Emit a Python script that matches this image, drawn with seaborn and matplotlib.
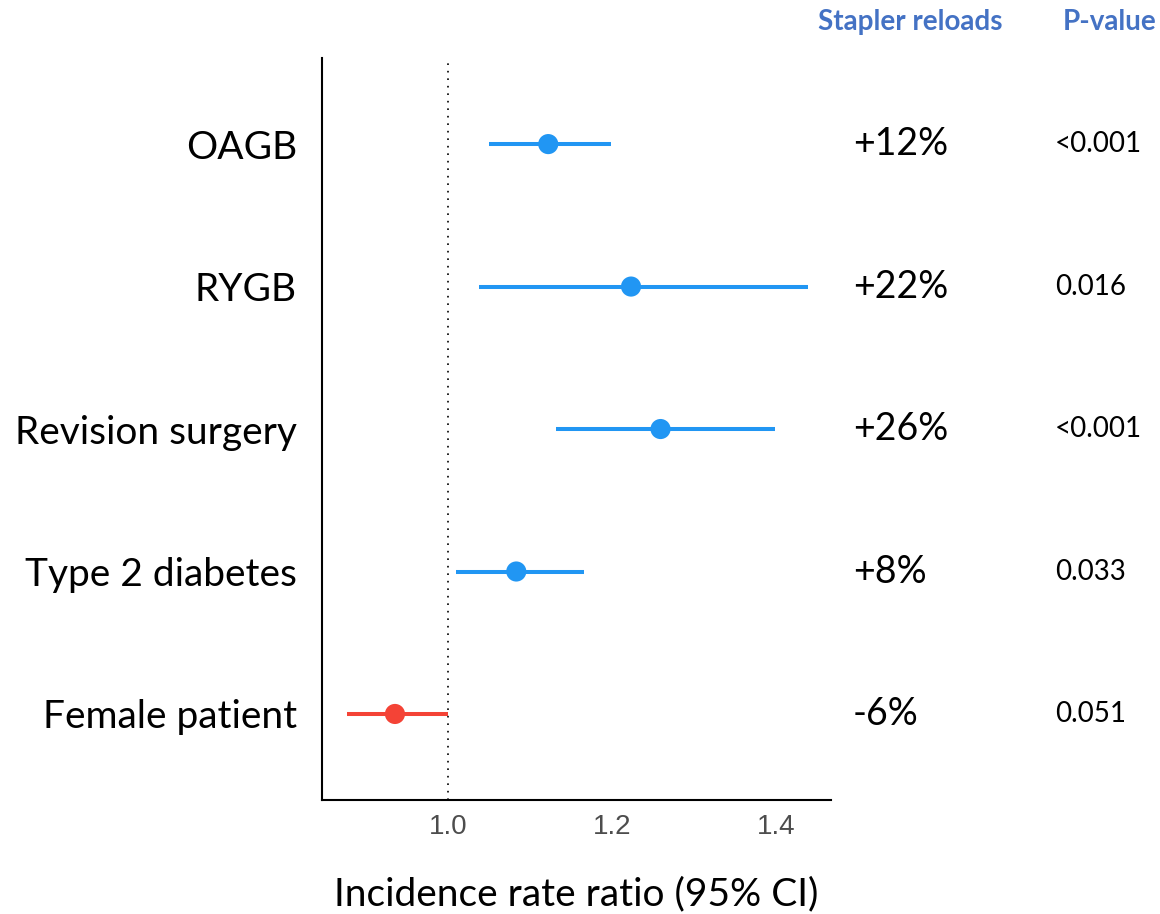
import matplotlib
matplotlib.use('Agg')
import matplotlib.pyplot as plt
import seaborn as sns
import pandas as pd

# Data
labels = ['OAGB', 'RYGB', 'Revision surgery', 'Type 2 diabetes', 'Female patient']
irr = [1.122, 1.223, 1.259, 1.083, 0.935]
ci_low = [1.050, 1.038, 1.132, 1.009, 0.876]
ci_high = [1.198, 1.439, 1.399, 1.166, 1.000]
change = ['+12%', '+22%', '+26%', '+8%', '-6%']
pvals = ['<0.001', '0.016', '<0.001', '0.033', '0.051']

df = pd.DataFrame({'label': labels, 'irr': irr, 'lo': ci_low, 'hi': ci_high,
                   'change': change, 'p': pvals})
df['pos'] = range(len(df))
df['dir'] = ['up' if v >= 1 else 'down' for v in df.irr]
colors = {'up': '#2196F3', 'down': '#F44336'}

sns.set_style('white')
plt.rcParams['font.family'] = ['Lato', 'DejaVu Sans']
plt.rcParams['text.color'] = 'black'
plt.rcParams['axes.labelcolor'] = 'black'

fig = plt.figure(figsize=(11.6, 9.14), dpi=100)
ax = fig.add_axes([0.2776, 0.1247, 0.7164 - 0.2776, 0.9365 - 0.1247])

# CI lines
for _, r in df.iterrows():
    ax.hlines(r.pos, r.lo, r.hi, color=colors[r.dir], lw=2.9, zorder=2)
sns.scatterplot(data=df, x='irr', y='pos', hue='dir', palette=colors, s=210,
                edgecolor='none', legend=False, ax=ax, zorder=3)

ax.axvline(1.0, color='black', lw=1.2, ls=(0, (1, 3.5)), zorder=1)

ax.set_xlim(0.846, 1.467)
ax.set_ylim(4.604, -0.604)
ax.set_xticks([1.0, 1.2, 1.4])
ax.set_xticklabels(['1.0', '1.2', '1.4'], family='Liberation Sans', fontsize=20, color='#4d4d4d')
ax.set_yticks(df.pos)
ax.set_yticklabels(df.label, fontsize=28, color='black')
ax.tick_params(axis='y', length=0, pad=18)
ax.tick_params(axis='x', length=0, pad=10)
ax.set_xlabel('Incidence rate ratio (95% CI)', fontsize=28, labelpad=26)
ax.set_ylabel('')
for s in ['top', 'right']:
    ax.spines[s].set_visible(False)
for s in ['left', 'bottom']:
    ax.spines[s].set_color('black')
    ax.spines[s].set_linewidth(1.5)

# right-hand text columns
for _, r in df.iterrows():
    ax.annotate(r.change, xy=(1, r.pos), xycoords=('axes fraction', 'data'),
                xytext=(22, 0), textcoords='offset pixels', ha='left', va='center', fontsize=27)
    ax.annotate(r.p, xy=(1, r.pos), xycoords=('axes fraction', 'data'),
                xytext=(224, 0), textcoords='offset pixels', ha='left', va='center', fontsize=20)

fig.text(910 / 1160, 1 - 22 / 914, 'Stapler reloads', ha='center', va='center',
         fontsize=20, fontweight='bold', color='#4472C4')
fig.text(1110 / 1160, 1 - 22 / 914, 'P-value', ha='center', va='center',
         fontsize=20, fontweight='bold', color='#4472C4')

fig.savefig('out.png', dpi=100)
